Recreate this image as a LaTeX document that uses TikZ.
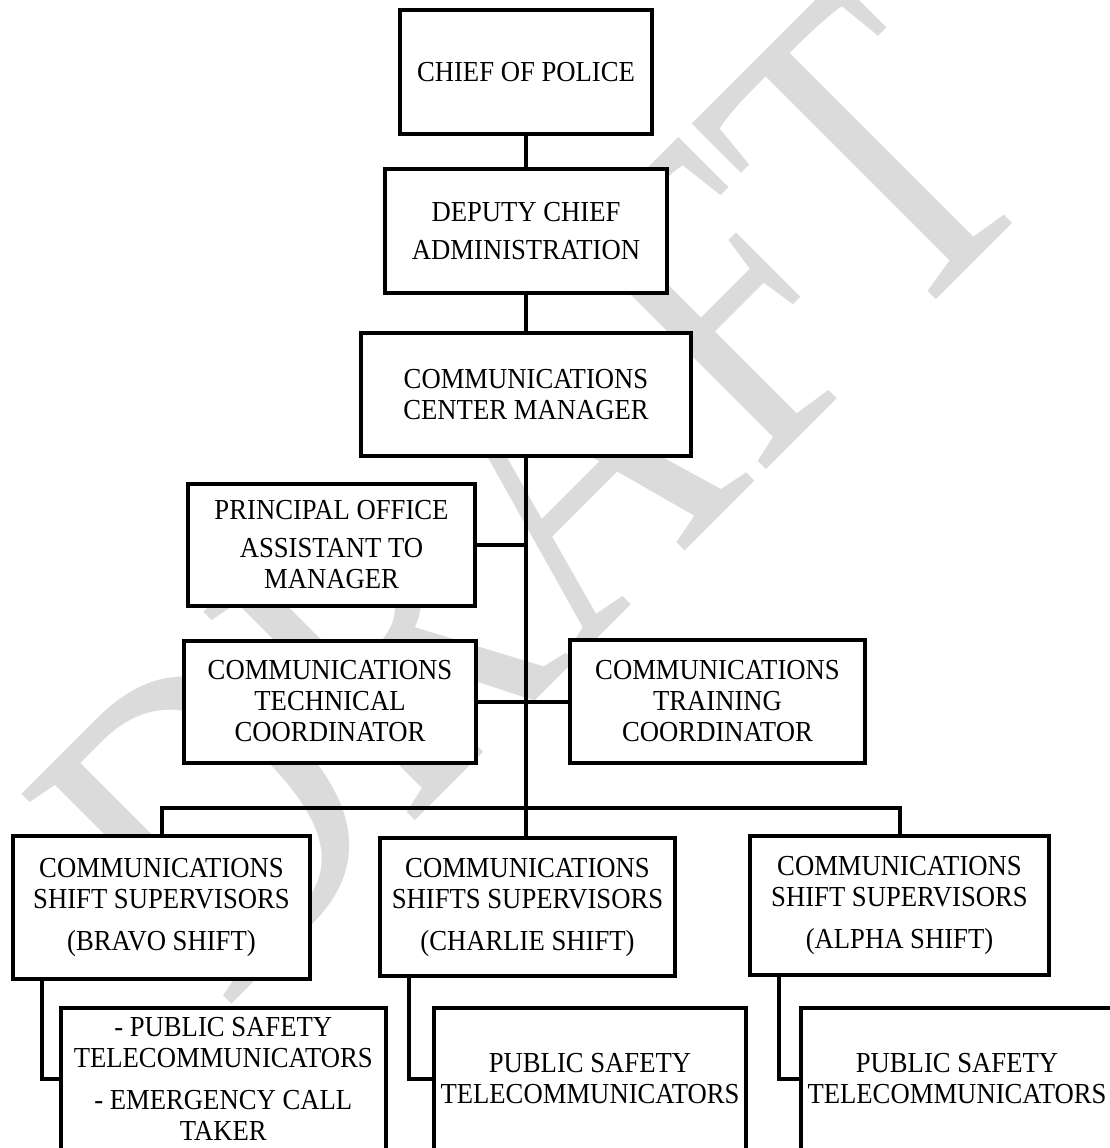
\documentclass[tikz,border=0pt]{standalone}
\usepackage{fontspec}
\setmainfont{Liberation Serif}[FakeStretch=0.92]
\newfontfamily\wmfont{Liberation Serif}
\newcommand\boxfont{\fontsize{29}{31}\selectfont}
\tikzset{
  box/.style={draw, line width=4pt, fill=white, align=center, inner sep=0pt, font=\boxfont},
  conn/.style={draw, line width=4pt},
  wm/.style={text=black!14, inner sep=0pt, font=\wmfont\fontsize{357}{357}\selectfont}
}
\begin{document}
\begin{tikzpicture}[x=1pt, y=-1pt]
\fill[white] (0,0) rectangle (1109,1148);
\useasboundingbox (0,0) rectangle (1109,1148);
% watermark
\node[wm, rotate=45, anchor=base west] (wm) at (224,1012) {\scalebox{1}[1.27]{DRAFT}};
% boxes
\node[box, minimum width=252pt, minimum height=124pt] (chief) at (526,72) {CHIEF OF POLICE};
\node[box, minimum width=282pt, minimum height=124pt] (deputy) at (526,231) {DEPUTY CHIEF\\[7pt]ADMINISTRATION};
\node[box, minimum width=330pt, minimum height=123pt] (manager) at (526,394.5) {COMMUNICATIONS\\CENTER MANAGER};
\node[box, minimum width=287pt, minimum height=122pt] (principal) at (331.5,545) {PRINCIPAL OFFICE\\[7pt]ASSISTANT TO\\MANAGER};
\node[box, minimum width=292pt, minimum height=122pt] (tech) at (330,701.5) {COMMUNICATIONS\\TECHNICAL\\COORDINATOR};
\node[box, minimum width=295pt, minimum height=123pt] (training) at (717.5,701.5) {COMMUNICATIONS\\TRAINING\\COORDINATOR};
\node[box, minimum width=297pt, minimum height=143pt] (bravo) at (161.5,907.5) {COMMUNICATIONS\\SHIFT SUPERVISORS\\[11pt](BRAVO SHIFT)};
\node[box, minimum width=295pt, minimum height=138pt] (charlie) at (527.5,907) {COMMUNICATIONS\\SHIFTS SUPERVISORS\\[11pt](CHARLIE SHIFT)};
\node[box, minimum width=299pt, minimum height=139pt] (alpha) at (899.5,905.5) {COMMUNICATIONS\\SHIFT SUPERVISORS\\[11pt](ALPHA SHIFT)};
\node[box, minimum width=324.5pt, minimum height=142pt] (bl) at (223.25,1079) {- PUBLIC SAFETY\\TELECOMMUNICATORS\\[11pt]- EMERGENCY CALL\\TAKER};
\node[box, minimum width=312pt, minimum height=142pt] (bm) at (590,1079) {PUBLIC SAFETY\\TELECOMMUNICATORS};
\node[box, minimum width=312pt, minimum height=142pt] (br) at (957,1079) {PUBLIC SAFETY\\TELECOMMUNICATORS};
% connectors
\coordinate (bus) at (526,808);
\draw[conn] (chief.south) -- (deputy.north);
\draw[conn] (deputy.south) -- (manager.north);
\draw[conn] (manager.south) -- (manager.south |- charlie.north);
\draw[conn] (principal.east) -- (principal.east -| manager.south);
\draw[conn] (tech.east) -- (training.west);
\draw[conn] (bravo.north) |- (bus) -| (alpha.north);
\draw[conn] ([xshift=31pt]bravo.south west) |- (bl.west);
\draw[conn] ([xshift=31pt]charlie.south west) |- (bm.west);
\draw[conn] ([xshift=31pt]alpha.south west) |- (br.west);
\end{tikzpicture}
\end{document}
